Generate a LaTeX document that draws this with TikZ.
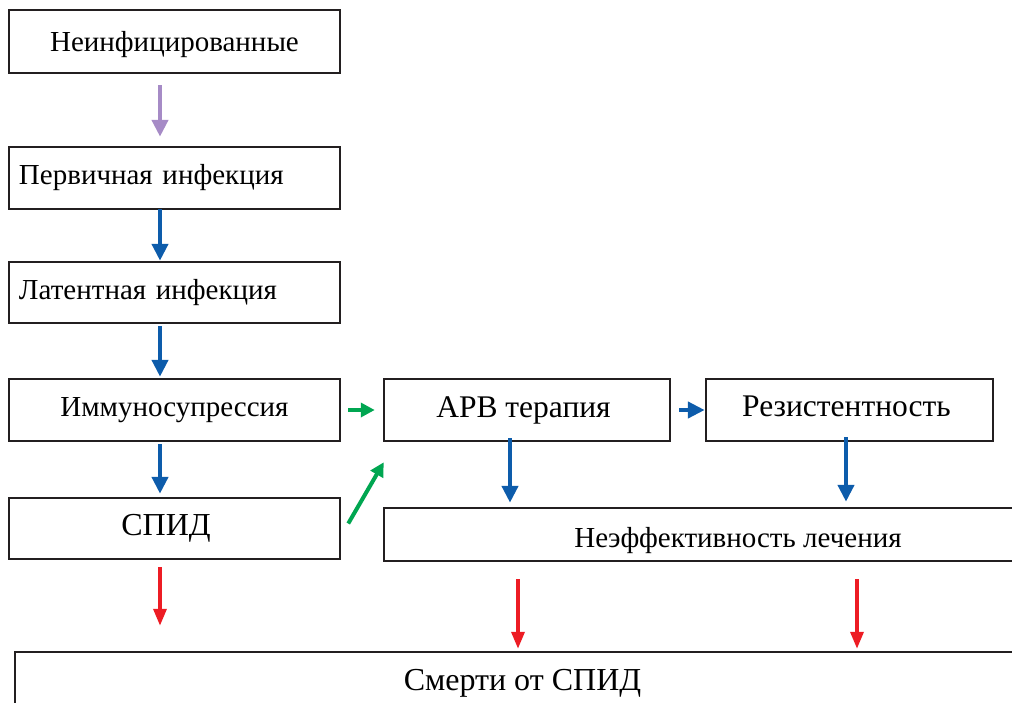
\documentclass[tikz,border=0pt]{standalone}
\usepackage{fontspec}
\setmainfont{Liberation Serif}
\usetikzlibrary{arrows.meta}
\definecolor{boxline}{HTML}{231F20}
\definecolor{apurple}{HTML}{A68BC6}
\definecolor{ablue}{HTML}{0D5CAB}
\definecolor{agreen}{HTML}{00A651}
\definecolor{ared}{HTML}{ED1C24}
\newcommand{\mvtext}[2]{\raisebox{#1}[\height][\depth]{#2}}
\tikzset{
  stagebox/.style={draw=boxline, line width=2.5pt, rectangle, inner sep=0pt, font=\fontsize{29}{33}\selectfont},
  leftbox/.style={stagebox, align=left, text width=311pt},
  bigtext/.style={font=\fontsize{32}{36}\selectfont},
  midtext/.style={font=\fontsize{31.5}{35}\selectfont},
  arr/.style={line width=4.8pt, -{Triangle[length=17pt,width=16pt]}},
  purplearrow/.style={arr, apurple},
  bluearrow/.style={arr, ablue},
  greenarrow/.style={line width=4pt, agreen, -{Triangle[length=14pt,width=14pt]}},
  redarrow/.style={line width=3.5pt, ared, -{Triangle[length=17pt,width=13pt]}},
}
\begin{document}
\begin{tikzpicture}[x=1pt,y=-1pt]
\useasboundingbox (0,0) rectangle (1012,702);
\node[stagebox, minimum width=331pt, minimum height=63pt] (n1) at (174.5,41.5) {\mvtext{-3pt}{Неинфицированные}};
\node[leftbox, minimum width=331pt, minimum height=62pt] (n2) at (174.5,178) {Первичная инфекция};
\node[leftbox, minimum width=331pt, minimum height=61pt] (n3) at (174.5,292.5) {Латентная инфекция};
\node[stagebox, minimum width=331pt, minimum height=62pt] (n4) at (174.5,410) {Иммуносупрессия};
\node[stagebox, bigtext, minimum width=331pt, minimum height=61pt] (n5) at (174.5,528.5) {\hspace*{-17pt}СПИД};
\node[stagebox, midtext, minimum width=286pt, minimum height=62pt] (arv) at (527,410) {\hspace*{-7pt}АРВ терапия};
\node[stagebox, midtext, minimum width=287pt, minimum height=62pt] (res) at (849.5,410) {\hspace*{-6pt}\mvtext{4pt}{Резистентность}};
\node[stagebox, minimum width=708pt, minimum height=53pt] (neff) at (738,534.5) {\mvtext{-6pt}{Неэффективность лечения}};
\node[stagebox, bigtext, minimum width=1015pt, minimum height=56pt] (death) at (522.5,680) {\mvtext{-3pt}{Смерти от СПИД}};

\draw[purplearrow] ([xshift=-14.5pt,yshift=-11pt]n1.south) -- ([xshift=-14.5pt,yshift=9pt]n2.north);
\draw[bluearrow] ([xshift=-14.5pt,yshift=1pt]n2.south) -- ([xshift=-14.5pt]n3.north);
\draw[bluearrow] ([xshift=-14.5pt,yshift=-2pt]n3.south) -- ([xshift=-14.5pt,yshift=1pt]n4.north);
\draw[bluearrow] ([xshift=-14.5pt,yshift=-2pt]n4.south) -- ([xshift=-14.5pt,yshift=3pt]n5.north);
\draw[greenarrow] ([xshift=7pt]n4.east) -- ([xshift=-8pt]arv.west);
\draw[greenarrow] ([xshift=7pt,yshift=5pt]n5.east) -- ([xshift=1pt,yshift=-20pt]arv.south west);
\draw[bluearrow] ([xshift=8pt]arv.east) -- (res.west);
\draw[bluearrow] ([xshift=-17pt,yshift=4pt]arv.south) -- ([xshift=-17pt,yshift=4pt]arv.south |- neff.north);
\draw[bluearrow] ([xshift=-3.5pt,yshift=5pt]res.south) -- ([xshift=-3.5pt,yshift=5pt]res.south |- neff.north);
\coordinate (redtarget) at ([yshift=19pt]death.north);
\coordinate (spidtarget) at ([yshift=32pt]death.north);
\draw[redarrow] ([xshift=-14.5pt,yshift=-7pt]n5.south) -- ([xshift=-14.5pt,yshift=-7pt]n5.south |- spidtarget);
\draw[redarrow] ([xshift=-220pt,yshift=-17pt]neff.south) -- ([xshift=-220pt,yshift=-17pt]neff.south |- redtarget);
\draw[redarrow] ([xshift=119pt,yshift=-17pt]neff.south) -- ([xshift=119pt,yshift=-17pt]neff.south |- redtarget);
\end{tikzpicture}
\end{document}
